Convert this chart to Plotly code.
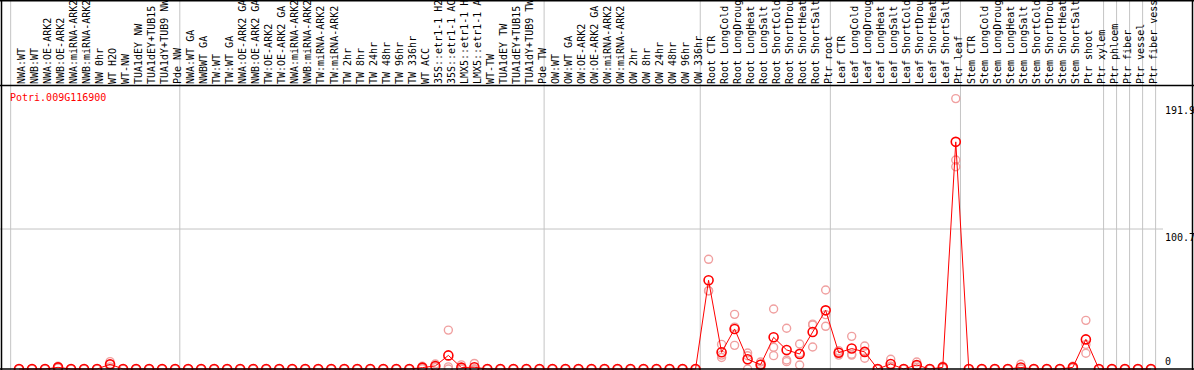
import plotly.graph_objects as go

labels = [
    "NWA:WT", "NWB:WT", "NWA:OE-ARK2", "NWB:OE-ARK2", "NWA:miRNA-ARK2", "NWB:miRNA-ARK2",
    "NW 0hr", "WT H2O", "WT-NW", "TUA1dEY NW", "TUA1dEY+TUB15 NW", "TUA1dY+TUB9 NW", "Pde NW",
    "NWA:WT GA", "NWBWT GA", "TW:WT", "TW:WT GA", "NWA:OE-ARK2 GA", "NWB:OE-ARK2 GA",
    "TW:OE-ARK2", "TW:OE-ARK2 GA", "NWA:miRNA-ARK2", "NWB:miRNA-ARK2", "TW:miRNA-ARK2",
    "TW:miRNA-ARK2", "TW 2hr", "TW 8hr", "TW 24hr", "TW 48hr", "TW 96hr", "TW 336hr", "WT ACC",
    "35S::etr1-1 H2O", "35S::etr1-1 ACC", "LMX5::etr1-1 H2O", "LMX5::etr1-1 ACC", "WT-TW",
    "TUA1dEY TW", "TUA1dEY+TUB15 TW", "TUA1dY+TUB9 TW", "Pde TW",
    "OW:WT", "OW:WT GA", "OW:OE-ARK2", "OW:OE-ARK2 GA", "OW:miRNA-ARK2", "OW:miRNA-ARK2",
    "OW 2hr", "OW 8hr", "OW 24hr", "OW 48hr", "OW 96hr", "OW 336hr",
    "Root CTR", "Root LongCold", "Root LongDrought", "Root LongHeat", "Root LongSalt",
    "Root ShortCold", "Root ShortDrought", "Root ShortHeat", "Root ShortSalt", "Ptr root",
    "Leaf CTR", "Leaf LongCold", "Leaf LongDrought", "Leaf LongHeat", "Leaf LongSalt",
    "Leaf ShortCold", "Leaf ShortDrought", "Leaf ShortHeat", "Leaf ShortSalt", "Ptr leaf",
    "Stem CTR", "Stem LongCold", "Stem LongDrought", "Stem LongHeat", "Stem LongSalt",
    "Stem ShortCold", "Stem ShortDrought", "Stem ShortHeat", "Stem ShortSalt", "Ptr shoot",
    "Ptr xylem", "Ptr phloem", "Ptr fiber", "Ptr vessel", "Ptr fiber vessel",
]

means = [
    0, 0, 0, 1.2, 0, 0, 0, 3.4, 0, 0, 0, 0, 0,
    0, 0, 0, 0, 0, 0, 0, 0, 0, 0, 0, 0, 0, 0, 0, 0, 0, 0, 1.0, 2.2, 9.8, 1.0, 1.3, 0, 0, 0, 0, 0,
    0, 0, 0, 0, 0, 0, 0, 0, 0, 0, 0, 0,
    63.8, 12.0, 28.8, 7.0, 3.1, 22.8, 13.7, 10.8, 26.6, 42.2,
    11.7, 14.7, 12.3, 0, 3.6, 0, 2.9, 0, 1.2, 163.4,
    0, 0, 0, 0, 1.1, 0, 0, 0, 1.2, 21.3, 0,
    0, 0, 0, 0,
]

rep1 = [
    0, 0, 0, 2.0, 0, 0, 0, 5.3, 0, 0, 0, 0, 0,
    0, 0, 0, 0, 0, 0, 0, 0, 0, 0, 0, 0, 0, 0, 0, 0, 0, 0, 2.0, 3.6, 28.0, 3.0, 4.0, 0, 0, 0, 0, 0,
    0, 0, 0, 0, 0, 0, 0, 0, 0, 0, 0, 0,
    78.9, 17.7, 39.3, 11.5, 5.0, 43.2, 29.3, 18.0, 32.3, 56.8,
    13.2, 23.5, 16.5, 0, 7.0, 0, 5.0, 0, 2.0, 194.5,
    0, 0, 0, 0, 3.4, 0, 0, 0, 2.0, 35.0, 0,
    0, 0, 0, 0,
]

rep2 = [
    0, 0, 0, 1.0, 0, 0, 0, 3.4, 0, 0, 0, 0, 0,
    0, 0, 0, 0, 0, 0, 0, 0, 0, 0, 0, 0, 0, 0, 0, 0, 0, 0, 0.8, 2.0, 1.5, 0, 0, 0, 0, 0, 0, 0,
    0, 0, 0, 0, 0, 0, 0, 0, 0, 0, 0, 0,
    56.3, 10.0, 30.1, 9.5, 3.5, 15.6, 6.5, 11.5, 31.7, 39.1,
    12.0, 10.6, 12.7, 0, 2.0, 0, 2.5, 0, 1.0, 150.3,
    0, 0, 0, 0, 0, 0, 0, 0, 1.0, 17.6, 0,
    0, 0, 0, 0,
]

rep3 = [
    0, 0, 0, 0.6, 0, 0, 0, 1.5, 0, 0, 0, 0, 0,
    0, 0, 0, 0, 0, 0, 0, 0, 0, 0, 0, 0, 0, 0, 0, 0, 0, 0, 0.2, 1.0, 0, 0, 0, 0, 0, 0, 0, 0,
    0, 0, 0, 0, 0, 0, 0, 0, 0, 0, 0, 0,
    56.2, 8.3, 17.0, 0, 0.8, 9.6, 5.3, 2.9, 15.8, 30.7,
    10.0, 10.0, 7.7, 0, 1.8, 0, 1.2, 0, 0.6, 145.5,
    0, 0, 0, 0, 0, 0, 0, 0, 0.6, 11.3, 0,
    0, 0, 0, 0,
]

group_starts = [0, 13, 41, 53, 63, 73, 84, 85, 86, 87, 88]
y_ticks = [191.9, 100.7, 0]
gene = "Potri.009G116900"

W, H = 1194, 370
TOP = 85
PH = H - TOP
FONT = "DejaVu Sans Mono"

x = list(range(len(labels)))

fig = go.Figure()
for reps in (rep1, rep2, rep3):
    fig.add_trace(go.Scatter(
        x=x, y=reps, mode="markers",
        marker=dict(symbol="circle-open", size=8, color="#f0a0a0", line=dict(width=1.4, color="#f0a0a0")),
        hoverinfo="skip", showlegend=False,
    ))
fig.add_trace(go.Scatter(
    x=x, y=means, mode="lines+markers",
    line=dict(color="#ff0000", width=1),
    marker=dict(symbol="circle-open", size=9, color="#ff0000", line=dict(width=1.6, color="#ff0000")),
    showlegend=False,
))


def py(p):
    return (H - p) / PH


shapes = []
for s in group_starts:
    shapes.append(dict(type="line", xref="x", yref="paper", x0=s - 0.64, x1=s - 0.64,
                       y0=py(H), y1=py(0), line=dict(color="#c4c4c4", width=1), layer="below"))
shapes.append(dict(type="line", xref="paper", yref="y", x0=0, x1=1163 / W, y0=100.7, y1=100.7,
                   line=dict(color="#c4c4c4", width=1), layer="below"))
black = dict(color="#000000", width=1.5)
shapes += [
    dict(type="line", xref="paper", yref="paper", x0=1.5 / W, x1=1.5 / W, y0=py(H), y1=py(0), line=black),
    dict(type="line", xref="paper", yref="paper", x0=1192.5 / W, x1=1192.5 / W, y0=py(H), y1=py(0), line=black),
    dict(type="line", xref="paper", yref="paper", x0=0, x1=1, y0=py(0.8), y1=py(0.8), line=black),
    dict(type="line", xref="paper", yref="paper", x0=0, x1=1, y0=py(85.5), y1=py(85.5), line=black),
    dict(type="line", xref="paper", yref="paper", x0=0, x1=1, y0=py(369), y1=py(369), line=black),
]

annotations = [
    dict(text=gene, xref="paper", yref="paper", x=8 / W, y=py(97.5), xanchor="left", yanchor="middle",
         showarrow=False, font=dict(family=FONT, size=10, color="#ff0000")),
]
for v in y_ticks:
    annotations.append(dict(
        text=f"{v:g}", xref="paper", yref="y", x=1163 / W, y=v, xanchor="left",
        yanchor="bottom" if v == 0 else "top", showarrow=False,
        font=dict(family=FONT, size=10, color="#000000"),
        yshift=-1 if v != 0 else 0,
    ))

fig.update_layout(
    width=W, height=H,
    margin=dict(l=0, r=0, t=TOP, b=0, pad=0),
    paper_bgcolor="white", plot_bgcolor="white",
    xaxis=dict(range=[-1.46, 90.31], side="top", tickmode="array", tickvals=x, ticktext=labels,
               tickangle=-90, showgrid=False, zeroline=False, showline=False, ticks="",
               ticklabelshift=3,
               tickfont=dict(family=FONT, size=10, color="#000000"), automargin=False),
    yaxis=dict(range=[-0.72, 204.3], showgrid=False, zeroline=False, showticklabels=False,
               showline=False, ticks="", automargin=False),
    shapes=shapes, annotations=annotations,
)

fig.write_html(
    "out.html",
    config={"displayModeBar": False},
    post_script="document.body.style.margin='0';document.body.style.overflow='hidden';",
)
